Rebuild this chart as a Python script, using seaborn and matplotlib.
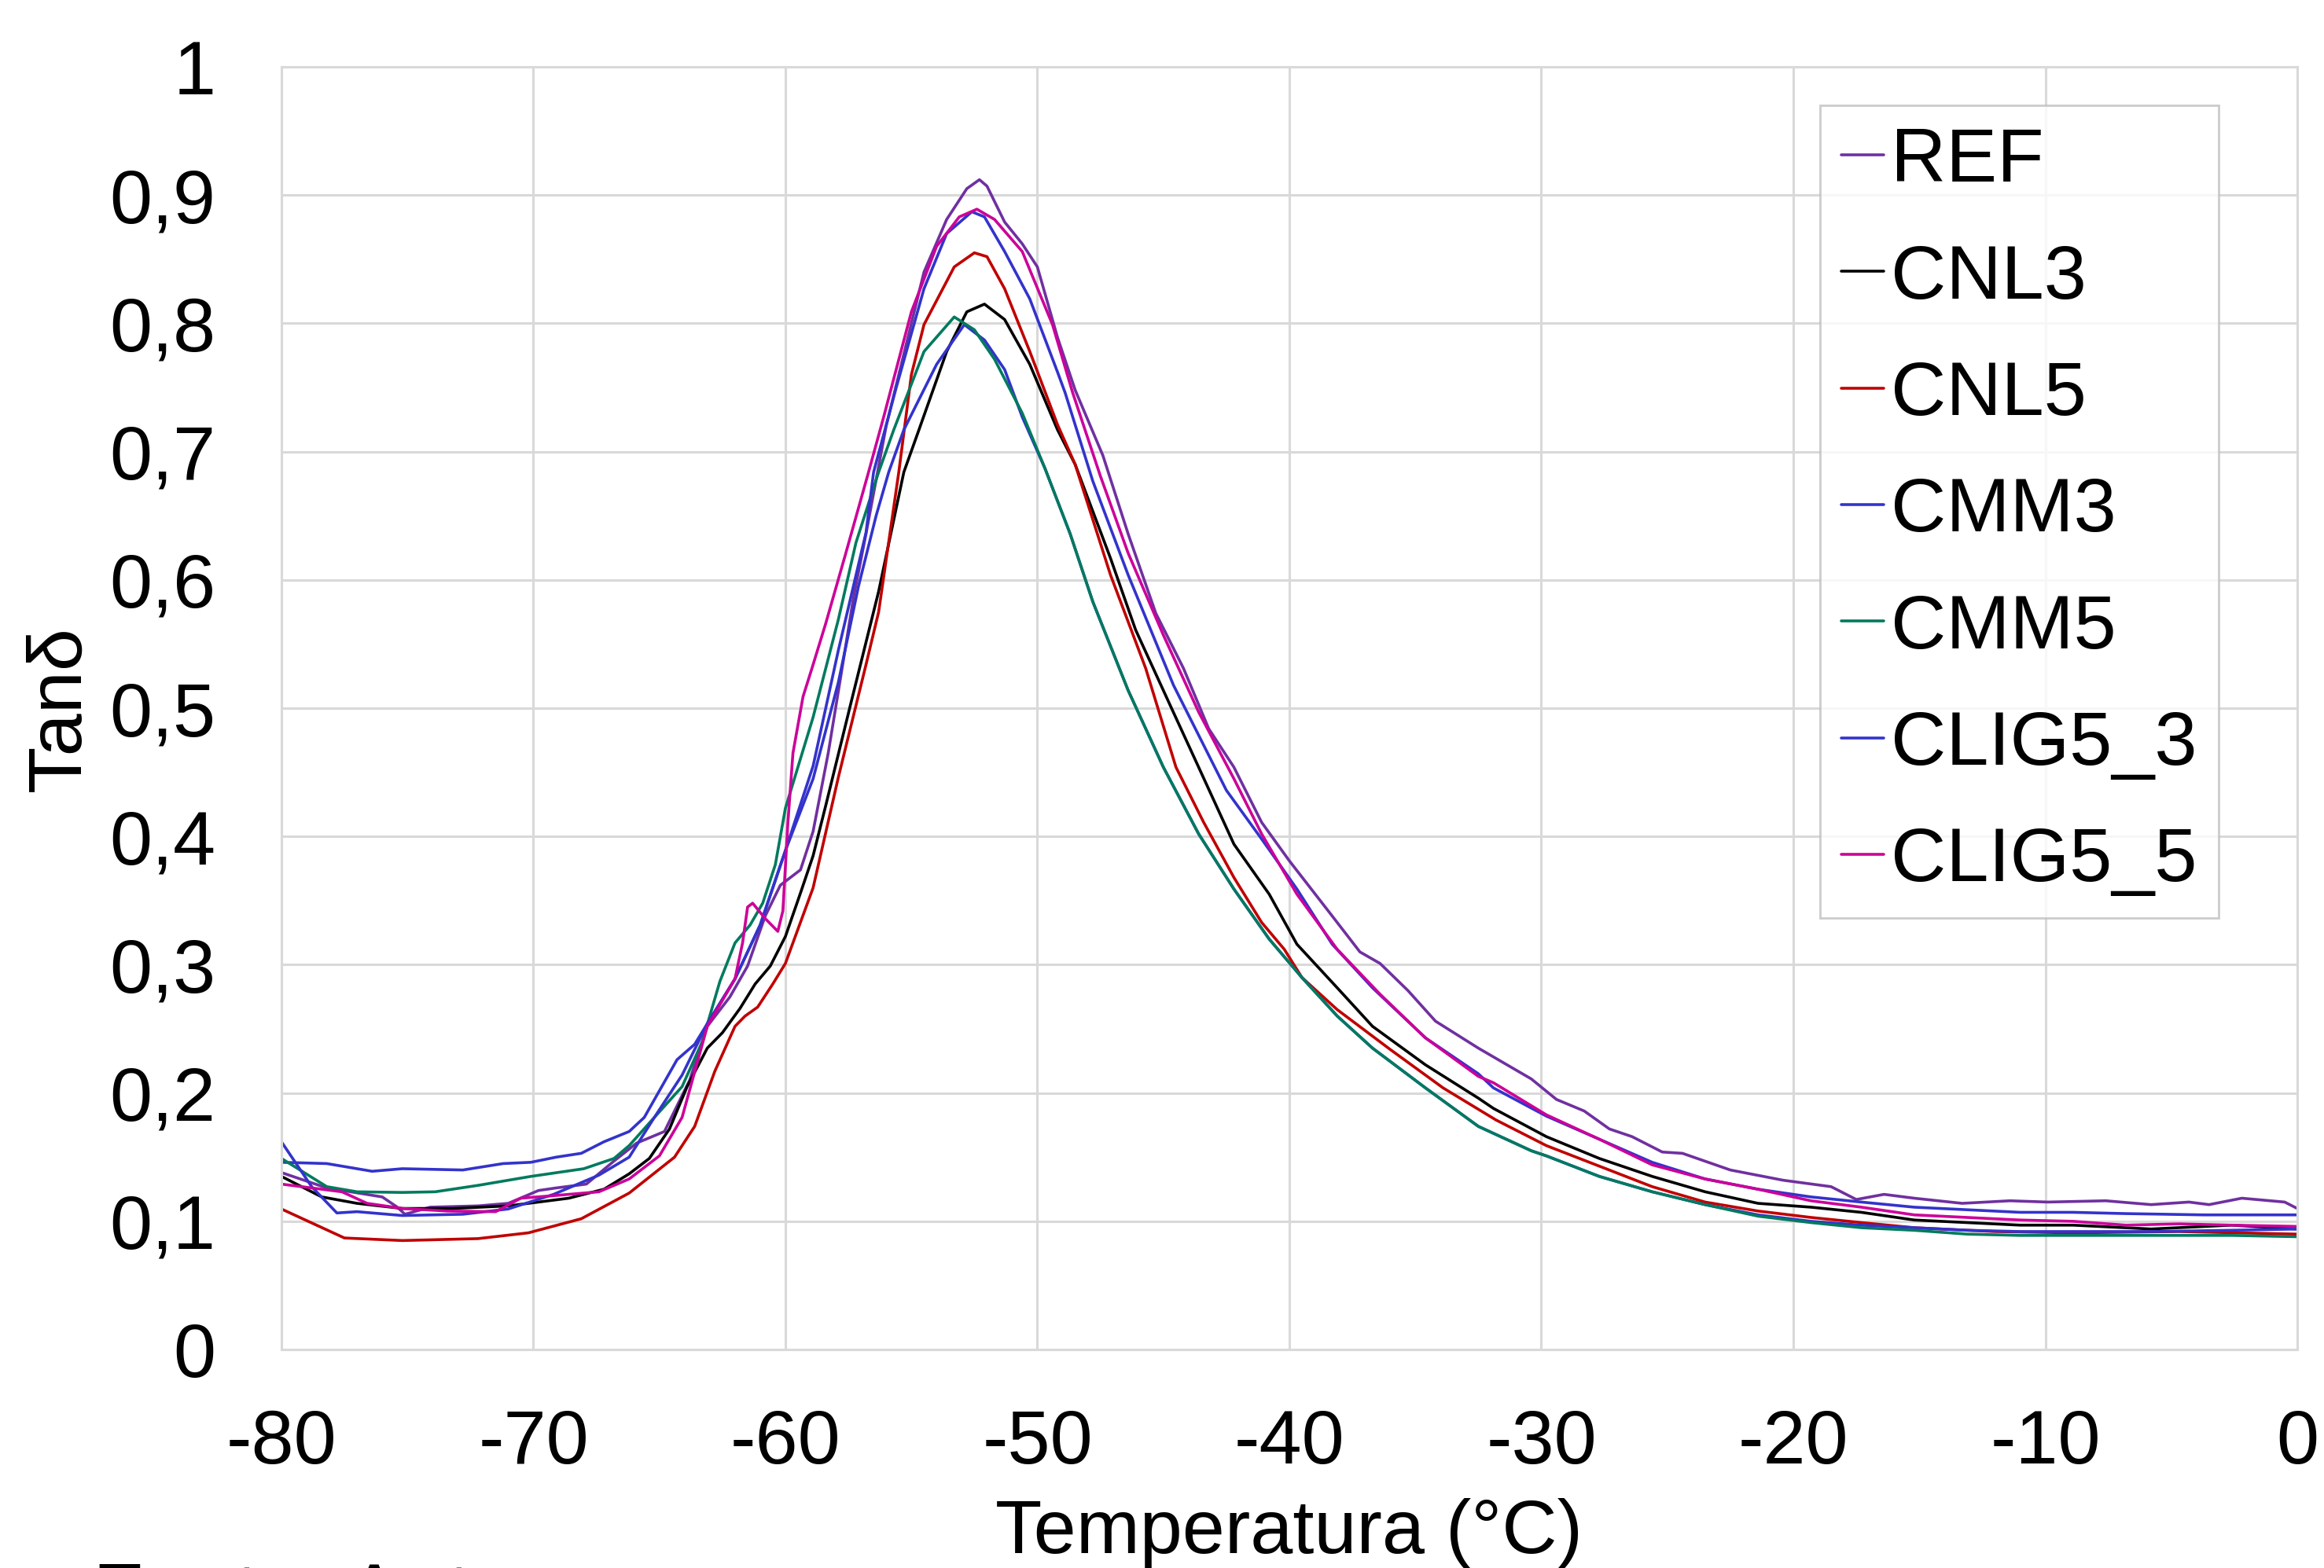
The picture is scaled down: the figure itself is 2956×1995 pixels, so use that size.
import matplotlib
matplotlib.use("Agg")
import matplotlib.pyplot as plt
from matplotlib.ticker import FuncFormatter, MultipleLocator
import pandas as pd
import seaborn as sns

# Tan delta vs temperatura
ref_t = [-80, -78.2, -76, -75.4, -75.1, -74.1, -72.2, -71, -69.8, -69.1, -67.9, -66.8, -65.9, -64.8,
         -63.8, -63.1, -62.2, -61.5, -60.8, -60.2, -59.4, -58.9, -58.3, -57.8, -57.3, -56.8, -56.0,
         -55.0, -54.5, -53.6, -52.8, -52.3, -52.0, -51.3, -50.6, -50.0, -49.2, -48.5, -47.4, -46.4,
         -45.3, -44.2, -43.2, -42.2, -41.1, -40.0, -38.3, -37.2, -36.4, -35.3, -34.2, -32.5, -30.4,
         -29.4, -28.3, -27.3, -26.4, -25.2, -24.4, -22.5, -20.4, -18.5, -17.5, -16.4, -15.2, -13.3,
         -11.4, -9.9, -7.6, -5.8, -4.3, -3.5, -2.2, -0.5, 0]
ref_v = [0.138, 0.126, 0.119, 0.111, 0.1055, 0.111, 0.112, 0.114, 0.124, 0.126, 0.129, 0.147, 0.161,
         0.170, 0.210, 0.252, 0.275, 0.299, 0.338, 0.362, 0.374, 0.404, 0.465, 0.525, 0.586, 0.636,
         0.720, 0.800, 0.840, 0.881, 0.905, 0.912, 0.907, 0.879, 0.862, 0.844, 0.789, 0.748, 0.697,
         0.636, 0.574, 0.531, 0.484, 0.454, 0.411, 0.381, 0.338, 0.310, 0.301, 0.280, 0.256, 0.235,
         0.211, 0.195, 0.186, 0.172, 0.166, 0.154, 0.153, 0.140, 0.132, 0.127, 0.117, 0.121, 0.118,
         0.114, 0.116, 0.115, 0.116, 0.113, 0.115, 0.113, 0.118, 0.115, 0.110]

cnl3_t = [-80, -78.4, -77, -75.2, -73.2, -71, -68.6, -67.2, -66.2, -65.4, -64.6, -63.9, -63.1, -62.5,
          -61.8, -61.2, -60.6, -60.0, -59.4, -58.9, -58.4, -57.4, -56.3, -55.3, -54.7, -53.6, -52.8,
          -52.1, -51.3, -50.3, -49.2, -48.5, -47.1, -46.1, -44.7, -43.6, -42.2, -40.8, -39.7, -38.1,
          -36.7, -34.6, -32.5, -31.9, -29.8, -27.7, -25.6, -23.5, -21.4, -19.3, -17.3, -15.2, -13.1,
          -11.0, -8.9, -5.8, -2.6, 0]
cnl3_v = [0.135, 0.119, 0.114, 0.110, 0.110, 0.112, 0.118, 0.125, 0.137, 0.149, 0.172, 0.205, 0.235,
          0.247, 0.266, 0.285, 0.299, 0.322, 0.356, 0.385, 0.424, 0.504, 0.591, 0.684, 0.717, 0.778,
          0.809, 0.815, 0.803, 0.768, 0.717, 0.690, 0.617, 0.561, 0.501, 0.454, 0.394, 0.355, 0.316,
          0.282, 0.252, 0.222, 0.196, 0.188, 0.166, 0.149, 0.135, 0.123, 0.114, 0.111, 0.107, 0.101,
          0.099, 0.097, 0.097, 0.094, 0.097, 0.094]

cnl5_t = [-80, -77.5, -75.2, -72.2, -70.2, -68.1, -66.2, -64.4, -63.6, -62.8, -62.0, -61.6, -61.1,
          -60.5, -60, -58.9, -57.9, -56.8, -56.3, -55.5, -55.0, -54.5, -53.3, -52.5, -52.0, -51.3,
          -50.3, -49.2, -48.5, -47.1, -45.7, -44.5, -43.4, -42.2, -41.1, -40.2, -39.5, -38.1, -36.0,
          -33.9, -31.8, -29.8, -27.7, -25.6, -23.5, -21.4, -19.3, -17.3, -15.2, -12.0, -8.9, -4.7, 0]
cnl5_v = [0.1096, 0.087, 0.085, 0.0865, 0.091, 0.102, 0.122, 0.150, 0.174, 0.217, 0.252, 0.260, 0.267,
          0.285, 0.301, 0.360, 0.446, 0.534, 0.575, 0.684, 0.760, 0.799, 0.844, 0.855, 0.852, 0.827,
          0.778, 0.721, 0.690, 0.604, 0.531, 0.454, 0.411, 0.368, 0.333, 0.312, 0.290, 0.265, 0.234,
          0.204, 0.179, 0.159, 0.143, 0.127, 0.115, 0.108, 0.103, 0.099, 0.095, 0.092, 0.091, 0.092,
          0.090]

cmm3_t = [-80, -78.2, -76.4, -75.2, -72.8, -71.2, -70.1, -69.1, -68.1, -67.2, -66.2, -65.6, -64.3,
          -63.6, -63.1, -62.0, -61.0, -60.0, -58.9, -57.9, -57.1, -56.4, -55.9, -55.3, -54.0, -52.9,
          -52.1, -51.3, -50.6, -49.7, -48.7, -47.8, -46.4, -45.0, -43.6, -42.2, -40.8, -39.5, -38.1,
          -36.7, -34.6, -32.5, -30.4, -29.8, -27.7, -25.6, -23.5, -21.4, -19.3, -17.3, -15.2, -13.1,
          -11.0, -8.9, -5.8, -2.6, 0]
cmm3_v = [0.146, 0.145, 0.139, 0.141, 0.140, 0.145, 0.146, 0.150, 0.153, 0.162, 0.170, 0.181, 0.226,
          0.238, 0.254, 0.289, 0.331, 0.389, 0.445, 0.520, 0.595, 0.650, 0.684, 0.717, 0.768, 0.799,
          0.787, 0.764, 0.727, 0.687, 0.636, 0.583, 0.514, 0.454, 0.402, 0.359, 0.320, 0.290, 0.260,
          0.235, 0.204, 0.174, 0.155, 0.151, 0.135, 0.123, 0.113, 0.105, 0.100, 0.097, 0.095, 0.093,
          0.092, 0.092, 0.092, 0.093, 0.094]

cmm5_t = [-80, -78.2, -77, -75.2, -73.9, -72.2, -70.1, -68, -66.8, -66.2, -65.2, -64.1, -63.3, -62.6,
          -62.0, -61.4, -60.9, -60.4, -60.0, -58.9, -57.9, -57.2, -56.3, -55.7, -54.5, -53.3, -52.5,
          -51.7, -50.6, -49.7, -48.7, -47.8, -46.4, -45.0, -43.6, -42.2, -40.8, -39.5, -38.1, -36.7,
          -34.6, -32.5, -30.4, -29.8, -27.7, -25.6, -23.5, -21.4, -19.3, -17.3, -15.2, -13.1, -11.0,
          -8.9, -5.8, -2.6, 0]
cmm5_v = [0.149, 0.127, 0.123, 0.1225, 0.123, 0.128, 0.135, 0.141, 0.149, 0.159, 0.181, 0.205, 0.240,
          0.287, 0.317, 0.331, 0.348, 0.378, 0.422, 0.493, 0.569, 0.629, 0.684, 0.717, 0.778, 0.805,
          0.795, 0.772, 0.730, 0.687, 0.636, 0.583, 0.514, 0.454, 0.402, 0.359, 0.320, 0.290, 0.260,
          0.235, 0.204, 0.174, 0.155, 0.151, 0.135, 0.123, 0.113, 0.104, 0.099, 0.095, 0.093, 0.090,
          0.089, 0.089, 0.089, 0.089, 0.088]

clig3_t = [-80, -78.8, -77.8, -77, -75.2, -72.8, -71, -69.2, -67.4, -66.2, -65.2, -64.1, -63.1, -62.0,
           -61.0, -60.0, -58.9, -57.9, -56.8, -56.5, -55.6, -54.5, -53.6, -52.6, -52.1, -51.3, -50.3,
           -49.2, -48.9, -47.8, -46.4, -44.6, -42.5, -41.1, -39.7, -38.3, -36.7, -34.6, -32.5, -31.9,
           -29.8, -27.7, -25.6, -23.5, -21.4, -19.3, -17.3, -15.2, -13.1, -11.0, -8.9, -6.8, -3.7, 0]
clig3_v = [0.162, 0.127, 0.1065, 0.1075, 0.1045, 0.1055, 0.1096, 0.121, 0.136, 0.150, 0.181, 0.214,
           0.254, 0.289, 0.331, 0.389, 0.455, 0.545, 0.637, 0.684, 0.750, 0.827, 0.870, 0.887, 0.883,
           0.856, 0.819, 0.762, 0.746, 0.677, 0.604, 0.518, 0.436, 0.398, 0.359, 0.316, 0.282, 0.243,
           0.215, 0.204, 0.182, 0.164, 0.146, 0.133, 0.125, 0.119, 0.115, 0.111, 0.109, 0.107, 0.107,
           0.106, 0.105, 0.105]

clig5_t = [-80, -77.6, -76.6, -75.2, -73.4, -71.5, -70.5, -69.2, -67.4, -66.2, -65.0, -64.1, -63.1,
           -62.0, -61.7, -61.5, -61.3, -60.8, -60.3, -60.1, -59.9, -59.7, -59.3, -58.9, -58.4, -57.6,
           -56.7, -56.1, -55.0, -54.0, -53.1, -52.4, -51.7, -50.6, -49.4, -48.6, -47.5, -46.4, -45.0,
           -43.6, -42.2, -41.1, -39.7, -38.1, -36.4, -34.6, -32.5, -31.9, -29.8, -27.7, -25.6, -23.5,
           -21.4, -19.3, -17.3, -15.2, -13.1, -11.0, -8.9, -6.8, -4.7, -2.6, 0]
clig5_v = [0.129, 0.123, 0.114, 0.110, 0.108, 0.1075, 0.118, 0.120, 0.123, 0.133, 0.151, 0.181, 0.252,
           0.289, 0.317, 0.345, 0.348, 0.336, 0.326, 0.342, 0.411, 0.465, 0.509, 0.534, 0.566, 0.621,
           0.684, 0.727, 0.809, 0.860, 0.883, 0.889, 0.881, 0.856, 0.799, 0.746, 0.681, 0.621, 0.557,
           0.497, 0.445, 0.402, 0.355, 0.312, 0.277, 0.243, 0.213, 0.208, 0.183, 0.164, 0.144, 0.133,
           0.125, 0.116, 0.111, 0.105, 0.103, 0.101, 0.100, 0.097, 0.098, 0.097, 0.096]

amostras = ["REF", "CNL3", "CNL5", "CMM3", "CMM5", "CLIG5_3", "CLIG5_5"]
cores = ["#7030A0", "#000000", "#C00000", "#3333CC", "#007A5E", "#3333CC", "#CC0099"]

series = [(ref_t, ref_v), (cnl3_t, cnl3_v), (cnl5_t, cnl5_v), (cmm3_t, cmm3_v),
          (cmm5_t, cmm5_v), (clig3_t, clig3_v), (clig5_t, clig5_v)]
frames = []
for nome, (t, v) in zip(amostras, series):
    frames.append(pd.DataFrame({"Temperatura": t, "Tan": v, "Amostra": nome}))
df = pd.concat(frames, ignore_index=True)

sns.set_theme(style="white")
plt.rcParams["font.family"] = ["Liberation Sans", "DejaVu Sans"]
plt.rcParams["axes.unicode_minus"] = False
plt.rcParams["text.color"] = "black"
plt.rcParams["axes.labelcolor"] = "black"

fig = plt.figure(figsize=(14.78, 9.975), dpi=200)
ax = fig.add_axes([0.1211, 0.1393, 0.8674, 0.8181])

sns.lineplot(data=df, x="Temperatura", y="Tan", hue="Amostra", hue_order=amostras,
             palette=dict(zip(amostras, cores)), estimator=None, sort=False,
             linewidth=1.3, ax=ax)
for ln in ax.get_lines():
    ln.set_solid_joinstyle("round")

ax.set_xlim(-80, 0)
ax.set_ylim(0, 1)
ax.xaxis.set_major_locator(MultipleLocator(10))
ax.yaxis.set_major_locator(MultipleLocator(0.1))
ax.yaxis.set_major_formatter(FuncFormatter(lambda v, p: ("%g" % round(v, 1)).replace(".", ",")))
ax.grid(True, color="#D9D9D9", linewidth=1.1)
for s in ax.spines.values():
    s.set_color("#D9D9D9")
    s.set_linewidth(1.1)
ax.tick_params(axis="both", length=0, labelsize=35, colors="black")
ax.tick_params(axis="y", pad=30)
ax.tick_params(axis="x", pad=27)

ax.set_xlabel("Temperatura (°C)", fontsize=35, color="black")
ax.set_ylabel("Tanδ", fontsize=35, color="black")
ax.xaxis.set_label_coords(0.5, -0.116)
ax.yaxis.set_label_coords(-0.092, 0.5)

handles, labels = ax.get_legend_handles_labels()
leg = ax.legend(handles, labels, loc="upper right", bbox_to_anchor=(0.961, 0.970),
                fontsize=35, frameon=True, fancybox=False, edgecolor="#BFBFBF",
                handlelength=0.55, handletextpad=0.1, labelspacing=0.6,
                borderpad=0.28, borderaxespad=0, labelcolor="black")
leg.get_frame().set_linewidth(1.0)
for h in leg.get_lines():
    h.set_linewidth(1.3)

fig.text(0.04, 0.0045, "Fonte: Autor", fontsize=38, va="top", ha="left", color="black")

fig.savefig("out.png", dpi=200, facecolor="white")
